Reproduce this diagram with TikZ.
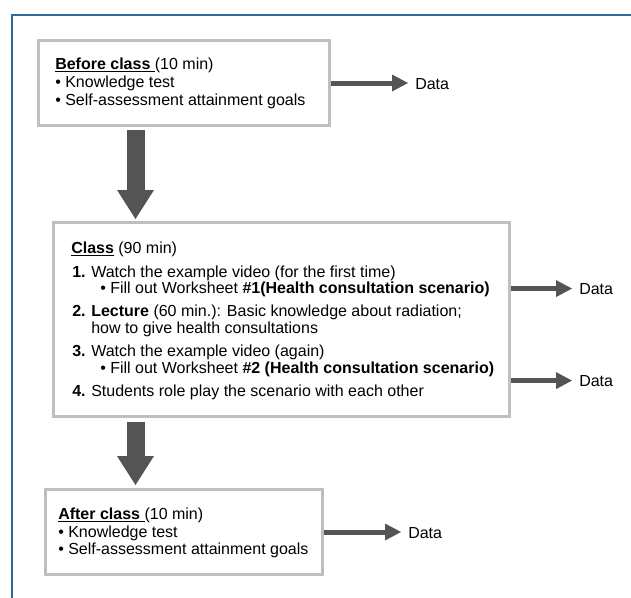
\documentclass[tikz,border=0pt]{standalone}
\usepackage{fontspec}
\setmainfont{Liberation Sans}
\usetikzlibrary{arrows.meta,fit}
\definecolor{frameblue}{HTML}{2E6A9A}
\definecolor{boxgray}{HTML}{BFBFBF}
\definecolor{arrgray}{HTML}{545454}
\tikzset{
  boxnode/.style={draw=boxgray, line width=2.25pt, inner sep=0pt},
  txt/.style={anchor=base west, inner sep=0pt, font=\fontsize{12}{14}\selectfont},
  datanode/.style={anchor=base west, inner xsep=5.25pt, inner ysep=0pt, font=\fontsize{12}{14}\selectfont},
  smallarrow/.style={draw=arrgray, line width=3.75pt, -{Triangle[length=12pt,width=12.75pt,line width=0pt]}},
  bigarrow/.style={draw=arrgray, line width=13.5pt, -{Triangle[length=21.75pt,width=27.75pt,line width=0pt]}},
  framestyle/.style={draw=frameblue, line width=1.5pt}
}
\begin{document}
\begin{tikzpicture}[x=0.75pt,y=-0.75pt]
\useasboundingbox (0,0) rectangle (631,597);
% outer frame
\draw[framestyle] (12,600) -- (12,15) -- (635,15);

% boxes
\node[boxnode, fit={(38.5,40.5) (329.5,125.5)}] (b1) {};
\node[boxnode, fit={(53.5,222.5) (509.5,416.5)}] (b2) {};
\node[boxnode, fit={(45.5,489.5) (322.5,574.5)}] (b3) {};

% box 1 text
\node[txt] (t11) at (55,69) {\underline{\textbf{Before class\ }}(10 min)};
\node[txt] (t12) at (55,87) {• Knowledge test};
\node[txt] (t13) at (55,105) {• Self-assessment attainment goals};

% box 2 text
\node[txt] (t20) at (71,253) {\underline{\textbf{Class}} (90 min)};
\node[txt] (n1) at (72,277) {\textbf{1.}};
\node[txt] (t21) at (91,277) {Watch the example video (for the first time)};
\node[txt] (t22) at (100,293) {• Fill out Worksheet \textbf{\#1(Health consultation scenario)}};
\node[txt] (n2) at (72,316) {\textbf{2.}};
\node[txt] (t23) at (91,316) {\textbf{Lecture} (60 min.): Basic knowledge about radiation;};
\node[txt] (t24) at (91,333) {how to give health consultations};
\node[txt] (n3) at (72,356) {\textbf{3.}};
\node[txt] (t25) at (91,356) {Watch the example video (again)};
\node[txt] (t26) at (100,373) {• Fill out Worksheet \textbf{\#2 (Health consultation scenario)}};
\node[txt] (n4) at (72,396) {\textbf{4.}};
\node[txt] (t27) at (91,396) {Students role play the scenario with each other};

% box 3 text
\node[txt] (t31) at (58,519) {\underline{\textbf{After class\ }}(10 min)};
\node[txt] (t32) at (58,537) {• Knowledge test};
\node[txt] (t33) at (58,554) {• Self-assessment attainment goals};

% data labels
\node[datanode] (d1) at (408,89) {Data};
\node[datanode] (d2) at (572,294) {Data};
\node[datanode] (d3) at (572,386) {Data};
\node[datanode] (d4) at (401,538) {Data};

% small arrows
\draw[smallarrow] (b1.east) -- (b1.east -| d1.west);
\draw[smallarrow] (b2.east |- d2.west) -- (d2.west);
\draw[smallarrow] (b2.east |- d3.west) -- (d3.west);
\draw[smallarrow] (b3.east) -- (b3.east -| d4.west);

% big arrows
\coordinate (ax) at (135.5,0);
\draw[bigarrow, shorten <=2.25pt, shorten >=1.5pt] (b1.south -| ax) -- (b2.north -| ax);
\draw[bigarrow, shorten <=3pt, shorten >=2.25pt] (b2.south -| ax) -- (b3.north -| ax);
\end{tikzpicture}
\end{document}
